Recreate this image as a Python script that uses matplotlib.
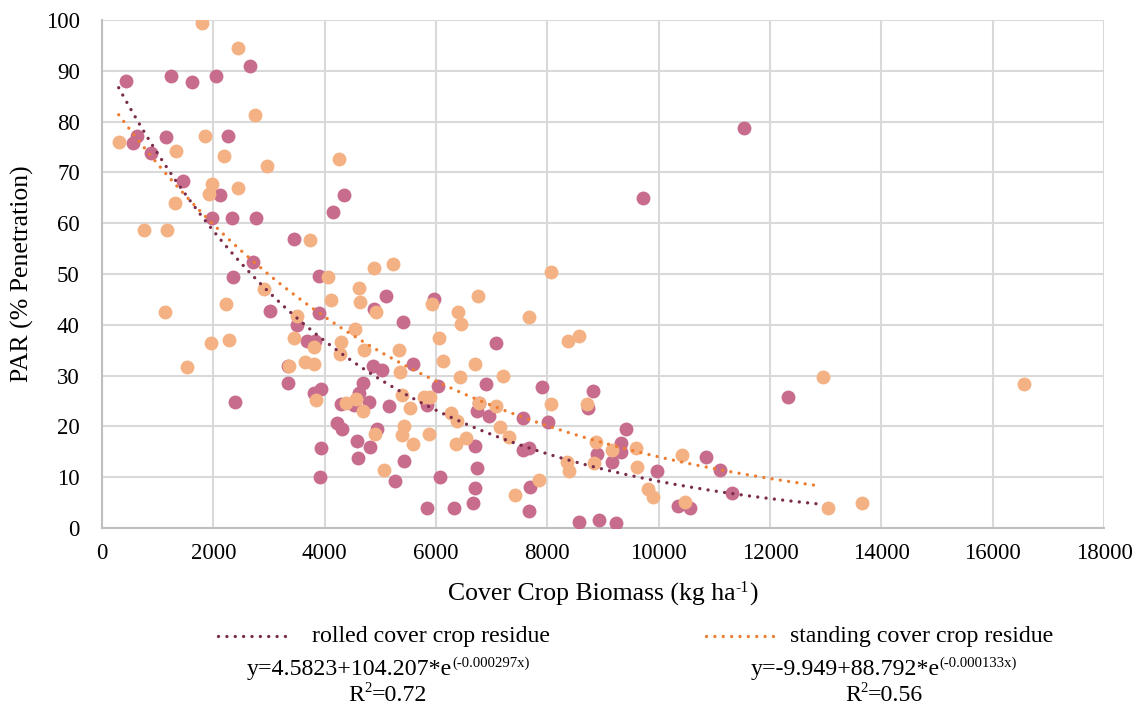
import numpy as np
import matplotlib
matplotlib.use("Agg")
import matplotlib.pyplot as plt
from matplotlib.lines import Line2D
from matplotlib.transforms import IdentityTransform

plt.rcParams["font.family"] = ["Liberation Serif", "DejaVu Serif"]

# Rolled cover crop residue: biomass (kg/ha) and PAR penetration (%)
rolled_x = [432, 1236, 1613, 2045, 2662, 636, 564, 1157, 2260, 876, 1451, 2117,
            4353, 4155, 1979, 2339, 2758, 3448, 2711, 2362, 3892, 3022, 3892, 3495,
            3688, 3832, 3334, 3334, 2393, 3801, 3927, 4300, 4222, 4312, 3940, 3922,
            5109, 5960, 4881, 5402, 7083, 4863, 5037, 5583, 4690, 6032, 6903, 7897,
            8820, 8731, 4618, 4798, 5158, 5841, 6764, 6741, 6950, 7561, 8006, 8899,
            7568, 7669, 4582, 4593, 4942, 4821, 5420, 5259, 6698, 6728, 6068, 6705,
            6662, 7682, 7676, 5841, 6320, 8569, 8929, 9409, 9319, 9319, 9157, 9967,
            10848, 11105, 11310, 10339, 10554, 9229, 12317, 9727, 11537, 4520]
rolled_y = [87.9, 89.0, 87.7, 88.9, 90.9, 77.2, 75.8, 77.0, 77.1, 73.8, 68.4, 65.6,
            65.6, 62.2, 61.0, 61.0, 61.0, 56.8, 52.4, 49.5, 49.7, 42.7, 42.3, 40.0,
            36.9, 36.9, 31.9, 28.5, 24.9, 26.5, 27.3, 24.4, 20.6, 19.5, 15.7, 10.1,
            45.6, 45.0, 43.1, 40.5, 36.4, 31.8, 31.2, 32.2, 28.6, 27.9, 28.4, 27.8,
            27.0, 23.6, 26.5, 24.8, 24.0, 24.3, 24.7, 23.0, 22.0, 21.7, 20.9, 14.5,
            15.4, 15.8, 17.2, 13.7, 19.5, 15.9, 13.1, 9.3, 16.1, 11.9, 10.0, 7.8,
            4.9, 8.1, 3.4, 3.9, 3.9, 1.1, 1.6, 19.5, 16.7, 15.0, 12.9, 11.3,
            13.9, 11.4, 6.8, 4.4, 3.9, 1.0, 25.7, 65.0, 78.8, 24.2]

# Standing cover crop residue
standing_x = [1793, 2441, 2752, 306, 1859, 1331, 2183, 2968, 4264, 1973, 1931, 2441,
              1313, 750, 1164, 3736, 4066, 4881, 5229, 8072, 2902, 1133, 2231, 4114,
              3495, 3454, 3801, 4300, 4282, 1955, 2290, 1523, 3364, 3640, 3814, 3837,
              4384, 4611, 4629, 5924, 6759, 4929, 6399, 6446, 7676, 4546, 6050, 8371,
              8575, 4701, 5338, 6117, 5349, 6692, 6428, 7208, 8060, 8707, 4557, 4683,
              5392, 5529, 5781, 5901, 6261, 6381, 6770, 7083, 7142, 7304, 8875, 8839,
              8359, 8389, 4911, 5420, 5397, 5595, 5883, 5061, 6351, 6536, 7412, 7849,
              9169, 9601, 9612, 9817, 9894, 10428, 10470, 13037, 13655, 12958, 16563]
standing_y = [99.5, 94.4, 81.3, 76.0, 77.1, 74.3, 73.2, 71.3, 72.6, 67.7, 65.8, 67.0,
              63.9, 58.7, 58.6, 56.6, 49.5, 51.2, 51.9, 50.3, 47.0, 42.6, 44.0, 44.9,
              41.8, 37.5, 35.7, 36.6, 34.2, 36.4, 37.0, 31.6, 31.8, 32.7, 32.2, 25.2,
              24.7, 47.2, 44.4, 44.0, 45.7, 42.5, 42.5, 40.2, 41.6, 39.2, 37.5, 36.9,
              37.8, 35.0, 35.0, 32.9, 30.8, 32.3, 29.8, 30.0, 24.5, 24.4, 25.3, 23.0,
              26.2, 23.7, 25.8, 25.8, 22.7, 21.1, 24.7, 24.0, 19.8, 18.0, 16.9, 12.7,
              12.9, 11.3, 18.6, 20.1, 18.3, 16.5, 18.5, 11.4, 16.5, 17.8, 6.4, 9.4,
              15.4, 15.7, 12.1, 7.7, 6.2, 14.4, 5.1, 4.0, 5.0, 29.7, 28.3]

# Exponential trend curves y = a * exp(b * x), drawn over a common biomass range
trend_a = [92.9, 85.9]
trend_b = [-0.0002313, -0.0001814]
trend_range = [300, 12900]

labels = ["rolled cover crop residue", "standing cover crop residue"]
eq_base = ["y=4.5823+104.207*e", "y=-9.949+88.792*e"]
eq_exp = ["(-0.000297x)", "(-0.000133x)"]
r2_values = ["0.72", "0.56"]

pink = "#C76C8C"
peach = "#F4B183"
maroon = "#7B2C4C"
orange = "#ED7D31"

W, H = 1142, 711
fig = plt.figure(figsize=(W / 100, H / 100), dpi=100)
ax = fig.add_axes([102 / W, 1 - 528 / H, 1002 / W, 508 / H])

ax.scatter(rolled_x, rolled_y, s=100, color=pink, linewidths=0, zorder=3)
ax.scatter(standing_x, standing_y, s=100, color=peach, linewidths=0, zorder=3)

xs = np.linspace(trend_range[0], trend_range[1], 300)
dot = (0, (0.01, 2.5))
for a, b, col in zip(trend_a, trend_b, [maroon, orange]):
    ax.plot(xs, a * np.exp(b * xs), color=col, lw=2.4, linestyle=dot,
            dash_capstyle="round", zorder=4)

ax.set_xlim(0, 18000)
ax.set_ylim(0, 100)
ax.set_xticks(np.arange(0, 18001, 2000))
ax.set_yticks(np.arange(0, 101, 10))
ax.grid(True, color="#D9D9D9", lw=1.5, zorder=0)
ax.set_axisbelow(True)
for side in ["top", "right"]:
    ax.spines[side].set_visible(False)
for side in ["left", "bottom"]:
    ax.spines[side].set_color("#BFBFBF")
    ax.spines[side].set_linewidth(1.5)
ax.tick_params(axis="both", length=0, labelsize=16.5, colors="black")
ax.tick_params(axis="y", pad=16)
ax.tick_params(axis="x", pad=11)

renderer = fig.canvas.get_renderer()


def rich_text(parts, x, baseline, size, ha="center"):
    """Place a run of text pieces in pixel coordinates; pieces flagged True are superscripts."""
    artists = []
    widths = []
    for s, sup in parts:
        fs = size * 0.62 if sup else size
        t = fig.text(0, 0, s, fontsize=fs, ha="left", va="baseline",
                     transform=IdentityTransform())
        artists.append((t, sup))
        widths.append(t.get_window_extent(renderer).width)
    total = sum(widths)
    cur = x - total / 2 if ha == "center" else x
    y0 = H - baseline
    for (t, sup), w in zip(artists, widths):
        t.set_position((cur, y0 + (size * 0.5 if sup else 0)))
        cur += w


# Axis titles
rich_text([("Cover Crop Biomass (kg ha", False), ("-1", True), (")", False)],
          603, 601, 18.5)
fig.text(22 / W, 1 - 274 / H, "PAR (% Penetration)", fontsize=18.5, rotation=90,
         ha="center", va="center")

# Legend entries with fitted equations
legend_rows = [(218, 290, 312, 388, maroon), (706, 776, 790, 884, orange)]
for (x0, x1, xt, xc, col), lab, base, ex, r2 in zip(legend_rows, labels, eq_base,
                                                       eq_exp, r2_values):
    fig.add_artist(Line2D([x0 / W, x1 / W], [1 - 636 / H, 1 - 636 / H], color=col,
                          lw=2.4, linestyle=dot, dash_capstyle="round",
                          transform=fig.transFigure))
    rich_text([(lab, False)], xt, 642, 17.2, ha="left")
    rich_text([(base, False), (ex, True)], xc, 675, 17.2)
    rich_text([("R", False), ("2", True), ("=" + r2, False)], xc, 701, 17.2)

fig.savefig("out.png", dpi=100)
